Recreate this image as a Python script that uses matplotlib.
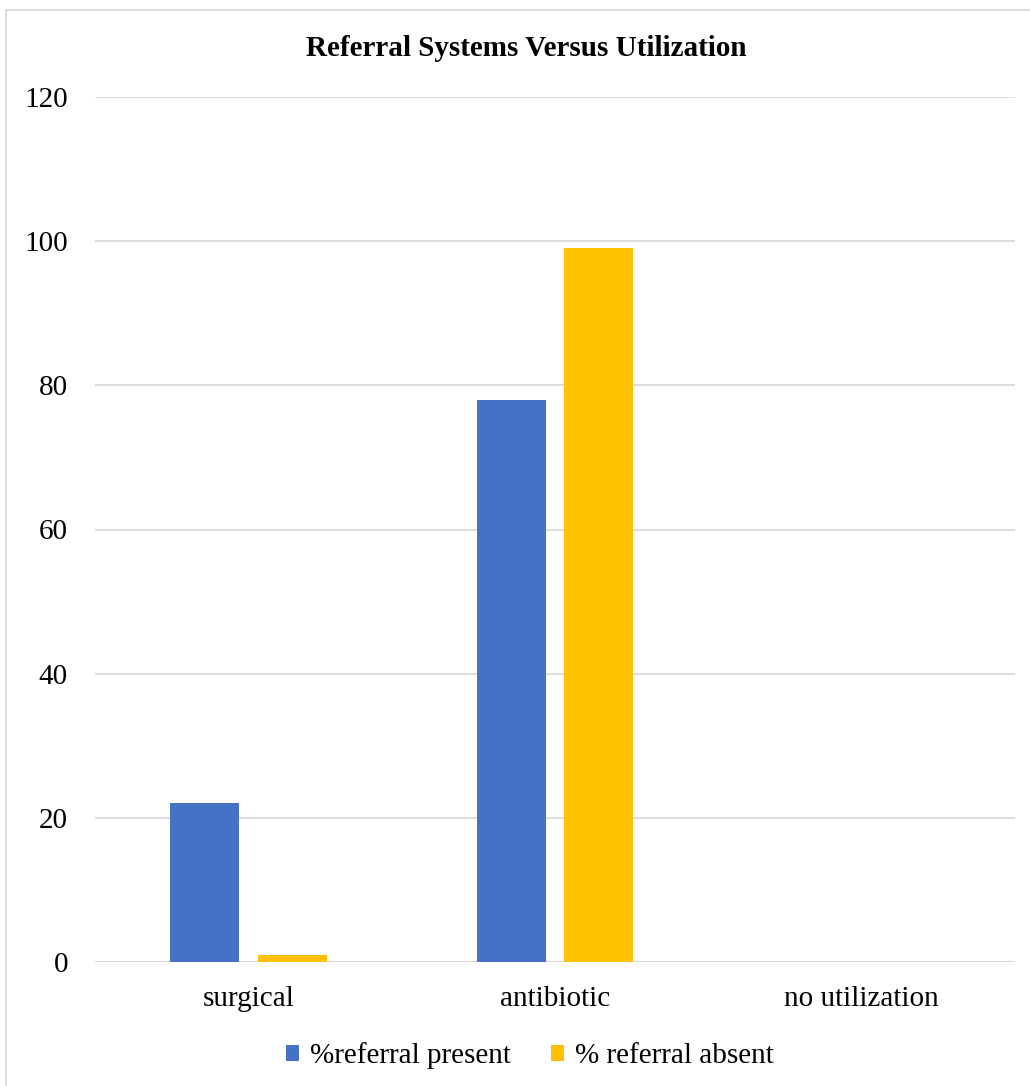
import matplotlib.pyplot as plt
import numpy as np
from matplotlib.patches import Rectangle

plt.rcParams['font.family'] = ['Liberation Serif', 'DejaVu Serif']

categories = ['surgical', 'antibiotic', 'no utilization']
referral_present = [22, 78, 0]
referral_absent = [1, 99, 0]
yticks = [0, 20, 40, 60, 80, 100, 120]

blue = '#4472C4'
gold = '#FFC000'
grid = '#D9D9D9'

fig = plt.figure(figsize=(10.30, 10.86), dpi=100)
ax = fig.add_axes([95/1030, 1 - 962/1086, 920/1030, 865/1086])

x = np.arange(len(categories))
w = 0.225
ax.bar(x - 0.143, referral_present, w, color=blue, label='%referral present', zorder=3)
ax.bar(x + 0.143, referral_absent, w, color=gold, label='% referral absent', zorder=3)

ax.set_xlim(-0.5, 2.5)
ax.set_ylim(0, 120)
ax.set_yticks(yticks)
ax.set_yticklabels([str(t) for t in yticks], fontsize=21)
ax.set_xticks(x)
ax.set_xticklabels(categories, fontsize=21)
ax.tick_params(axis='both', length=0)
ax.tick_params(axis='y', pad=19.5)
ax.tick_params(axis='x', pad=17)
ax.yaxis.grid(True, color=grid, linewidth=1.3, zorder=0)
ax.set_axisbelow(True)
for s in ax.spines.values():
    s.set_visible(False)
ax.axhline(0, color=grid, linewidth=1.5, zorder=1)

fig.text(526/1030, 1 - 49/1086, 'Referral Systems Versus Utilization',
         ha='center', va='center', fontsize=21, fontweight='bold')

leg = fig.legend(loc='center', bbox_to_anchor=(530/1030, 1 - 1056/1086), ncol=2,
                 frameon=False, fontsize=21, handlelength=0.45, handleheight=0.45,
                 handletextpad=0.38, columnspacing=1.35)

# outer chart frame
fig.patches.append(Rectangle((6/1030, -0.05), 1.1, 1 - 10/1086 + 0.05,
                             transform=fig.transFigure, fill=False,
                             edgecolor=grid, linewidth=1.3))

fig.savefig('out.png', dpi=100)
